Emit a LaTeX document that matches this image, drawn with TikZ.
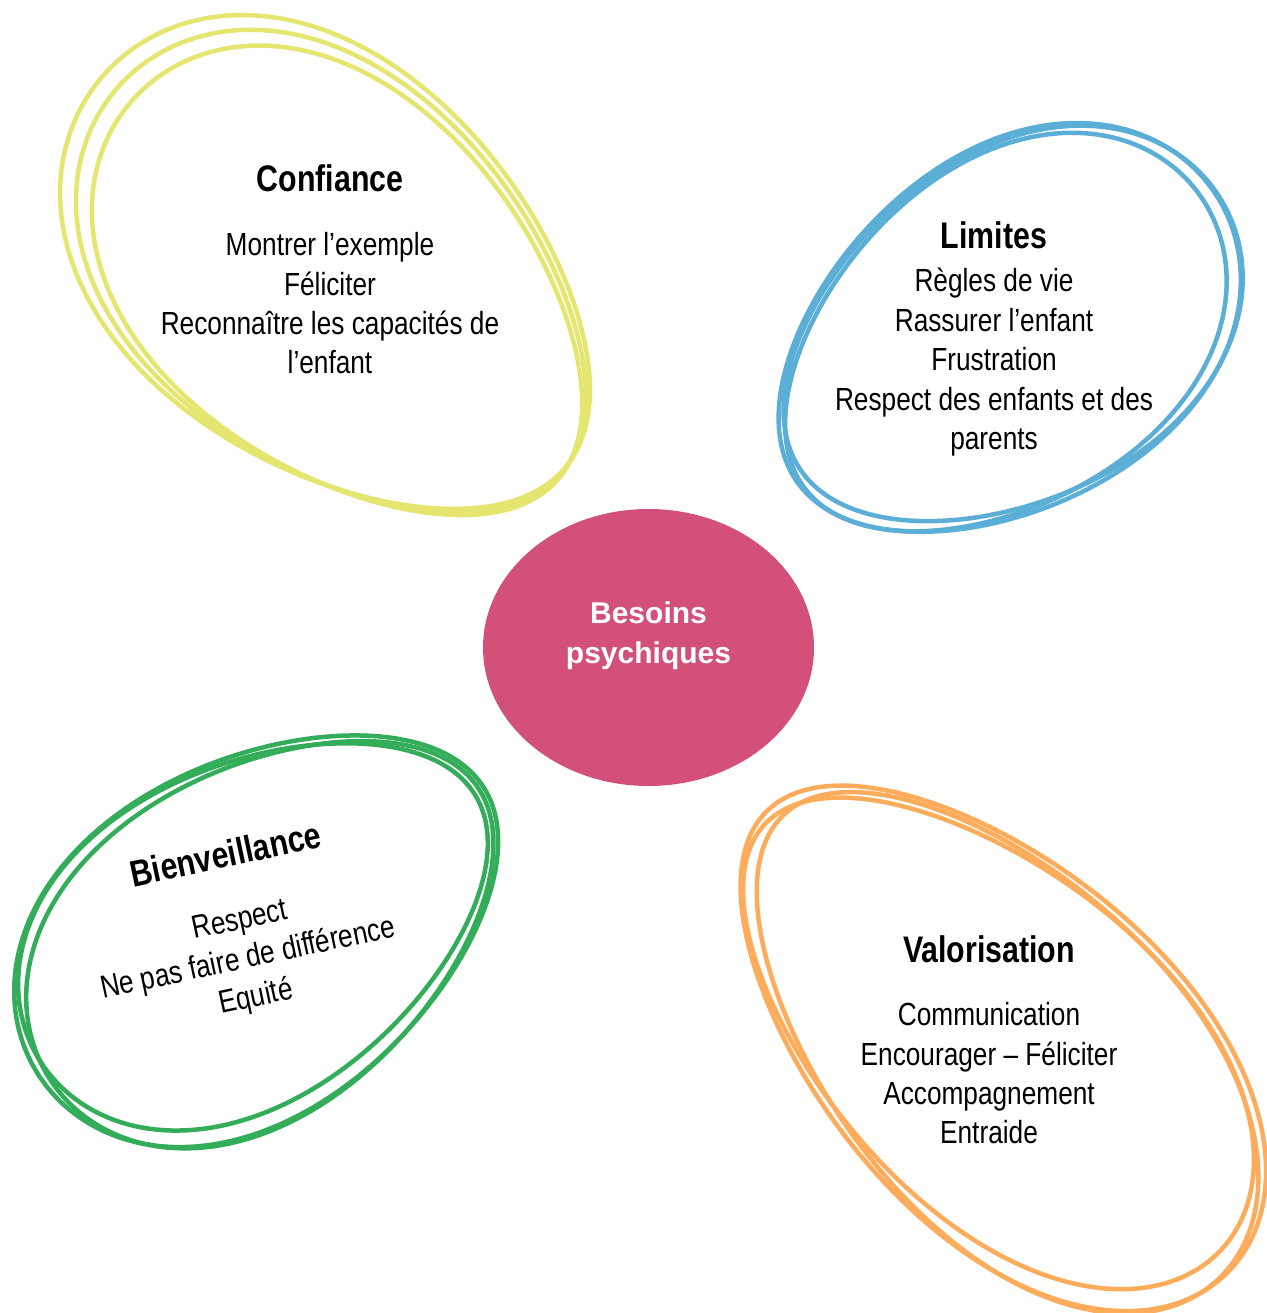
\documentclass[tikz,border=0pt]{standalone}
\usepackage{fontspec}
\setmainfont{Liberation Sans}
\newfontfamily\narrowfont[FakeStretch=0.82]{Liberation Sans}
\usetikzlibrary{shapes.geometric}
\definecolor{cyellow}{HTML}{E5E66F}
\definecolor{cblue}{HTML}{5BAED6}
\definecolor{cgreen}{HTML}{34AD5A}
\definecolor{corange}{HTML}{FCAC5A}
\definecolor{cpink}{HTML}{D35079}
\newcommand\titlefont{\narrowfont\bfseries\fontsize{37}{40}\selectfont}
\newcommand\firstline{\rule{0pt}{30pt}}
\newcommand\eggloop[7]{%
  \draw[#7] plot[smooth cycle, domain=0:355, samples=72, variable=\t]
  ({#1+(#3)*cos(\t)*cos(#5)-(#4)*sin(\t)*(1-(#6)*cos(\t))*sin(#5)},
   {#2+(#3)*cos(\t)*sin(#5)+(#4)*sin(\t)*(1-(#6)*cos(\t))*cos(#5)});}
\tikzset{
  bubbletext/.style={font=\narrowfont\fontsize{32}{39.4}\selectfont, align=center, anchor=north, inner sep=0pt},
  loopline/.style={line width=4.5pt, line join=round},
  centre/.style={ellipse, fill=cpink, minimum width=331pt, minimum height=277pt, inner sep=0pt},
  centretext/.style={font=\bfseries\fontsize{30}{40}\selectfont, text=white, align=center, anchor=north, inner sep=0pt},
}
\begin{document}
\begin{tikzpicture}[x=1pt,y=-1pt]
\fill[white] (0,0) rectangle (1266,1313);
\useasboundingbox (0,0) rectangle (1266,1313);
% yellow
\eggloop{333}{273}{303}{198}{40}{0.15}{loopline, cyellow}
\eggloop{339}{281}{294}{191}{41}{0.15}{loopline, cyellow}
\eggloop{345}{290}{285}{184}{42}{0.15}{loopline, cyellow}
% blue
\eggloop{1005}{336}{254}{175}{145}{0.12}{loopline, cblue}
\eggloop{1009}{332}{250}{171}{147}{0.12}{loopline, cblue}
\eggloop{1001}{340}{246}{167}{143}{0.12}{loopline, cblue}
% green
\eggloop{261}{931}{265}{175}{-33}{0.14}{loopline, cgreen}
\eggloop{265}{935}{259}{170}{-35}{0.14}{loopline, cgreen}
\eggloop{257}{927}{255}{166}{-31}{0.14}{loopline, cgreen}
% orange
\eggloop{997}{1042}{326}{178}{225}{0.12}{loopline, corange}
\eggloop{1001}{1047}{318}{172}{227}{0.12}{loopline, corange}
\eggloop{993}{1037}{312}{168}{223}{0.12}{loopline, corange}
% centre
\node[centre] (c) at (648.5,647.5) {};
\node[centretext] (ct) at (648.5,593.3) {\firstline Besoins\\psychiques};
% bubbles
\node[bubbletext] (t1) at (330,161.5)
  {\firstline{\titlefont Confiance}\\[24.6pt]Montrer l’exemple\\Féliciter\\Reconnaître les capacités de\\l’enfant};
\node[bubbletext] (t2) at (994,218.7)
  {\firstline{\titlefont Limites}\\[3.6pt]Règles de vie\\Rassurer l’enfant\\Frustration\\Respect des enfants et des\\parents};
\node[bubbletext] (t3) at (989,932)
  {\firstline{\titlefont Valorisation}\\[24pt]Communication\\Encourager – Féliciter\\Accompagnement\\Entraide};
\node[bubbletext, rotate=12] (t4) at (222.1,837.4)
  {\firstline{\titlefont Bienveillance}\\[24pt]Respect\\Ne pas faire de différence\\Equité};
\end{tikzpicture}
\end{document}
